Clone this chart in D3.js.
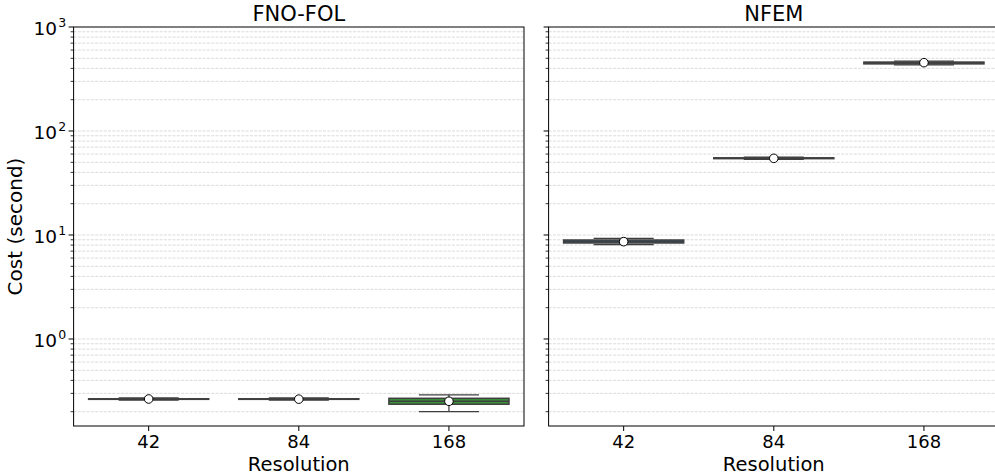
<!DOCTYPE html>
<html><head><meta charset="utf-8">
<script src="https://cdn.jsdelivr.net/npm/d3@7"></script>
<style>
body{margin:0;background:#fff;}
svg{display:block;font-family:"DejaVu Sans",sans-serif;}
</style></head>
<body><svg id="c" width="995" height="476"></svg>
<script>
const panels = ["FNO-FOL", "NFEM"];
const resolutions = ["42", "84", "168"];
const colors = ["#3274a1", "#e1812c", "#3a923a"];
// [whiskerLow, q1, median, q3, whiskerHigh]
const fnoStats = [
  [0.259, 0.263, 0.265, 0.266, 0.271],
  [0.259, 0.263, 0.265, 0.266, 0.271],
  [0.200, 0.236, 0.252, 0.269, 0.291]
];
const fnoMeans = [0.265, 0.264, 0.252];
const nfemStats = [
  [8.10, 8.38, 8.65, 8.95, 9.26],
  [53.3, 54.2, 54.6, 55.2, 56.0],
  [432, 442, 452, 460, 470]
];
const nfemMeans = [8.63, 54.6, 454];
const yDomain = [0.1457, 1000];
const yMajorTicks = [1, 10, 100, 1000];
const yTickExps = ["0", "1", "2", "3"];
const yTitle = "Cost (second)";
const xTitle = "Resolution";

const svg = d3.select("#c");
const yTop = 27, yBottom = 426;
const panelX = [[73.6, 524], [548.6, 999]];
const y = d3.scaleLog().domain(yDomain).range([yBottom, yTop]);

const minorTicks = [];
for (let e = -1; e <= 2; e++) for (let m = 2; m <= 9; m++) {
  const v = m * Math.pow(10, e);
  if (v >= yDomain[0] && v <= yDomain[1]) minorTicks.push(v);
}

const allStats = [fnoStats, nfemStats];
const allMeans = [fnoMeans, nfemMeans];
const edge = "#3f3f3f";

panels.forEach((name, pi) => {
  const [x0, x1] = panelX[pi];
  const x = d3.scaleBand().domain(resolutions).range([x0, x1]);
  const g = svg.append("g");

  g.selectAll("line.grid").data(minorTicks.concat(yMajorTicks.filter(v => v < 1000)))
    .enter().append("line")
    .attr("x1", x0).attr("x2", x1)
    .attr("y1", d => y(d)).attr("y2", d => y(d))
    .attr("stroke", "#d2d2d2").attr("stroke-width", 0.8)
    .attr("stroke-dasharray", "3,1.3");

  const w = x.bandwidth() * 0.8;
  resolutions.forEach((r, i) => {
    const s = allStats[pi][i];
    const cx = x(r) + x.bandwidth() / 2;
    const bg = g.append("g");
    bg.append("line").attr("x1", cx).attr("x2", cx).attr("y1", y(s[3])).attr("y2", y(s[4]))
      .attr("stroke", edge).attr("stroke-width", 1.25);
    bg.append("line").attr("x1", cx).attr("x2", cx).attr("y1", y(s[1])).attr("y2", y(s[0]))
      .attr("stroke", edge).attr("stroke-width", 1.25);
    [s[0], s[4]].forEach(v => {
      bg.append("line").attr("x1", cx - w / 4).attr("x2", cx + w / 4)
        .attr("y1", y(v)).attr("y2", y(v))
        .attr("stroke", edge).attr("stroke-width", 1.25);
    });
    bg.append("rect").attr("x", cx - w / 2).attr("width", w)
      .attr("y", y(s[3])).attr("height", Math.max(0, y(s[1]) - y(s[3])))
      .attr("fill", colors[i]).attr("stroke", edge).attr("stroke-width", 1.5);
    bg.append("line").attr("x1", cx - w / 2).attr("x2", cx + w / 2)
      .attr("y1", y(s[2])).attr("y2", y(s[2]))
      .attr("stroke", edge).attr("stroke-width", 1.5);
    bg.append("circle").attr("cx", cx).attr("cy", y(allMeans[pi][i])).attr("r", 4.3)
      .attr("fill", "#fff").attr("stroke", "#000").attr("stroke-width", 1);
  });

  g.append("rect").attr("x", x0).attr("y", yTop).attr("width", x1 - x0).attr("height", yBottom - yTop)
    .attr("fill", "none").attr("stroke", "#000").attr("stroke-width", 1);

  g.selectAll("line.ymaj").data(yMajorTicks).enter().append("line")
    .attr("x1", x0 - 5).attr("x2", x0).attr("y1", d => y(d)).attr("y2", d => y(d))
    .attr("stroke", "#000").attr("stroke-width", 1);
  g.selectAll("line.ymin").data(minorTicks).enter().append("line")
    .attr("x1", x0 - 3).attr("x2", x0).attr("y1", d => y(d)).attr("y2", d => y(d))
    .attr("stroke", "#000").attr("stroke-width", 0.8);

  if (pi === 0) {
    yMajorTicks.forEach((v, k) => {
      const t = g.append("text").attr("x", x0 - 7.5).attr("y", y(v) + 8)
        .attr("text-anchor", "end").attr("font-size", 18.5).attr("fill", "#000");
      t.append("tspan").text("10");
      t.append("tspan").attr("dx", 1).attr("dy", -8).attr("font-size", 12.5).text(yTickExps[k]);
    });
    g.append("text").attr("transform", `translate(22,${(yTop + yBottom) / 2}) rotate(-90)`)
      .attr("text-anchor", "middle").attr("font-size", 20).text(yTitle);
  }

  resolutions.forEach(r => {
    const cx = x(r) + x.bandwidth() / 2;
    g.append("line").attr("x1", cx).attr("x2", cx).attr("y1", yBottom).attr("y2", yBottom + 5)
      .attr("stroke", "#000").attr("stroke-width", 1);
    g.append("text").attr("x", cx).attr("y", 447.5).attr("text-anchor", "middle")
      .attr("font-size", 18).text(r);
  });
  g.append("text").attr("x", (x0 + x1) / 2).attr("y", 471)
    .attr("text-anchor", "middle").attr("font-size", 19.5).text(xTitle);
  g.append("text").attr("x", (x0 + x1) / 2).attr("y", 20.5)
    .attr("text-anchor", "middle").attr("font-size", 21).text(name);
});
</script></body></html>
